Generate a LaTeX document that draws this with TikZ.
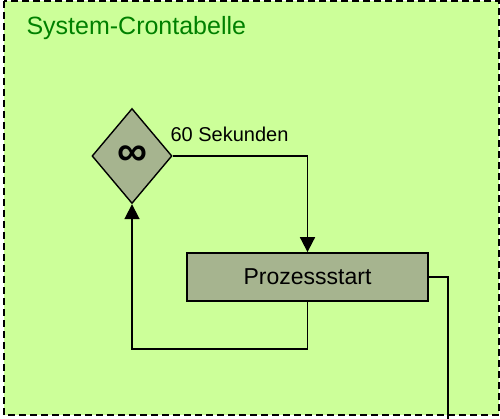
\documentclass[tikz,border=0pt]{standalone}
\usepackage{fontspec}
\setmainfont{Liberation Sans}
\usepackage[HTML]{xcolor}
\usetikzlibrary{positioning, arrows.meta, shapes.geometric}
\definecolor{cronbg}{HTML}{CCFF99}
\definecolor{cronfill}{HTML}{A6B48F}
\definecolor{crongreen}{HTML}{008000}

\begin{document}
\begin{tikzpicture}[x=1pt, y=-1pt,
  arr/.style={line width=1.8pt, -{Triangle[length=15pt, width=15pt]}},
  conn/.style={line width=1.8pt},
  stepbox/.style={draw, line width=1.8pt, fill=cronfill, minimum width=241pt, minimum height=48pt, inner sep=0pt},
  loopnode/.style={draw, line width=1.4pt, fill=cronfill, diamond, minimum width=80pt, minimum height=95pt, inner sep=0pt}]
\useasboundingbox (0,0) rectangle (500,419);
% --- Crontab frame ---
\draw[line width=2pt, dash pattern=on 7pt off 4pt, fill=cronbg] (4,1) rectangle (499,415);
\node[anchor=base west, text=crongreen, font=\fontsize{25}{30}\selectfont] (title) at (23,35) {System-Crontabelle};
% --- loop and process ---
\node[loopnode, font=\fontsize{42}{42}\selectfont\bfseries] (loop) at (132,156) {\raisebox{-4pt}{∞}};
\node[stepbox, font=\fontsize{23}{28}\selectfont] (start) at (307.5,277) {Prozessstart};
\node[anchor=base west, font=\fontsize{20}{24}\selectfont] (interval) at (167,142) {60 Sekunden};
\coordinate (exit) at (448,422);
% --- connectors ---
\draw[arr] (loop.east) -| (start.north);
\draw[arr] (start.south) -- ++(0,47) -| (loop.south);
\draw[conn] (start.east) -| (exit);
\end{tikzpicture}
\end{document}
